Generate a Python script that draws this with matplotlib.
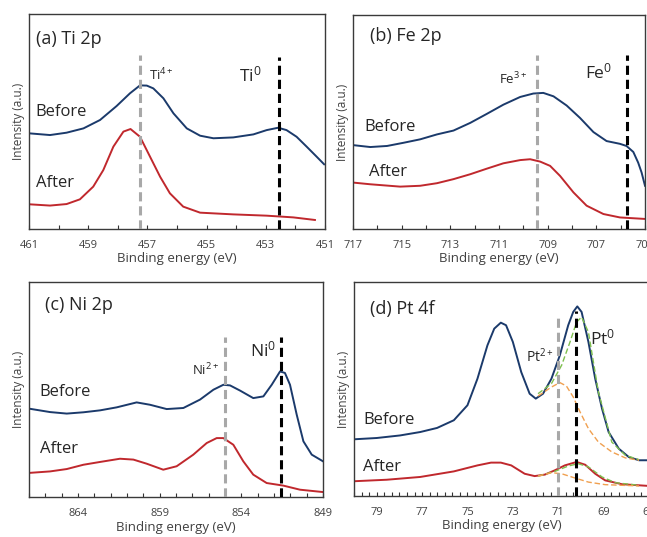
import matplotlib
matplotlib.use("Agg")
import matplotlib.pyplot as plt
from matplotlib.ticker import MultipleLocator
import numpy as np

plt.rcParams['font.family'] = ['Open Sans', 'DejaVu Sans']
plt.rcParams['mathtext.fontset'] = 'custom'
plt.rcParams['mathtext.rm'] = 'Open Sans'
plt.rcParams['mathtext.default'] = 'regular'

# ---- (a) Ti 2p ----
ti_be_before = [461, 460.29, 459.73, 459.16, 458.6, 458.04, 457.59, 457.25, 457.02, 456.8,
                456.46, 456.12, 455.67, 455.22, 454.77, 454.1, 453.42, 452.97, 452.58, 452.3,
                451.96, 451.62, 451.28, 451.03]
ti_before = [44.5, 43.7, 44.8, 46.8, 50.7, 57.2, 63.1, 66.8, 66.7, 65.4,
             60.8, 53.8, 46.8, 43.4, 42.2, 42.6, 44.0, 46.0, 47.1, 46.0,
             42.9, 38.3, 33.6, 30.1]
ti_be_after = [461, 460.29, 459.73, 459.28, 458.83, 458.49, 458.15, 457.81, 457.57, 457.25,
               456.91, 456.57, 456.24, 455.79, 455.22, 454.1, 452.97, 452.07, 451.34]
ti_after = [11.5, 10.9, 11.6, 13.8, 19.7, 27.4, 38.3, 45.3, 46.5, 42.9,
            33.6, 24.3, 16.6, 10.4, 7.6, 6.8, 6.2, 5.4, 4.2]
ti_ticks = [461, 459, 457, 455, 453, 451]
ti_ox, ti_met = 457.25, 452.57

# ---- (b) Fe 2p ----
fe_be_before = [717, 716.29, 715.6, 714.92, 714.24, 713.55, 712.87, 712.18, 711.5, 710.82,
                710.13, 709.59, 709.18, 708.76, 708.22, 707.67, 707.12, 706.58, 706.03, 705.76,
                705.48, 705.28, 705.14, 705.0]
fe_before = [39.2, 38.3, 38.8, 40.3, 41.9, 44.2, 46.0, 49.6, 53.8, 58.1,
             61.7, 63.3, 63.6, 62.0, 57.7, 51.9, 45.3, 41.1, 39.8, 38.8,
             36.0, 31.0, 26.4, 20.2]
fe_be_after = [717, 716.29, 715.06, 714.24, 713.55, 712.87, 712.18, 711.5, 710.82, 710.13,
               709.72, 709.31, 708.9, 708.49, 707.94, 707.4, 706.71, 706.03, 705.0]
fe_after = [21.7, 20.9, 19.8, 20.2, 21.4, 23.3, 25.6, 28.2, 30.7, 32.2,
            32.6, 31.5, 29.5, 24.8, 17.1, 10.9, 7.0, 5.4, 4.7]
fe_ticks = [717, 715, 713, 711, 709, 707, 705]
fe_ox, fe_met = 709.42, 705.76

# ---- (c) Ni 2p ----
ni_be_before = [867, 865.71, 864.69, 863.67, 862.65, 861.63, 860.41, 859.59, 858.57, 857.55,
                856.53, 855.71, 855.1, 854.69, 854.08, 853.27, 852.65, 852.14, 851.63, 851.33,
                851.02, 850.61, 850.2, 849.69, 849.0]
ni_before = [41.1, 39.5, 38.8, 39.4, 40.3, 41.7, 44.0, 42.9, 40.9, 41.4,
             45.3, 49.9, 52.2, 51.9, 49.5, 46.0, 46.8, 52.2, 58.4, 57.7,
             52.2, 38.3, 25.9, 19.7, 16.6]
ni_be_after = [867, 865.71, 864.69, 863.67, 862.65, 861.43, 860.61, 859.8, 858.78, 857.96,
               856.94, 856.12, 855.51, 855.1, 854.49, 853.88, 853.27, 852.45, 851.43, 850.41, 849.0]
ni_after = [11.2, 11.9, 13.0, 15.0, 16.3, 17.8, 17.4, 15.5, 12.7, 14.3,
            19.7, 25.1, 27.4, 27.4, 24.3, 16.6, 10.4, 6.5, 5.3, 3.4, 2.3]
ni_ticks = [864, 859, 854, 849]
ni_ox, ni_met = 855.0, 851.59

# ---- (d) Pt 4f ----
pt_be_before = [80, 79.0, 77.97, 77.08, 76.34, 75.6, 75.0, 74.56, 74.12, 73.82,
                73.53, 73.3, 73.0, 72.63, 72.26, 71.99, 71.67, 71.3, 70.93, 70.56,
                70.34, 70.16, 69.97, 69.67, 69.37, 69.07, 68.78, 68.33, 67.89, 67.44, 67.0]
pt_before = [26.5, 27.1, 28.3, 29.9, 31.8, 35.4, 42.4, 54.8, 70.4, 78.2,
             81.0, 79.8, 72.0, 57.9, 47.8, 45.5, 47.8, 54.8, 65.7, 79.8,
             86.0, 88.6, 86.0, 72.0, 54.8, 40.8, 29.9, 22.1, 18.2, 16.7, 16.7]
pt_be_after = [80, 78.56, 77.08, 75.6, 74.56, 73.96, 73.53, 73.07, 72.48, 72.04,
               71.59, 71.15, 70.71, 70.19, 69.81, 69.37, 68.93, 68.19, 67.0]
pt_after = [6.9, 7.6, 8.9, 11.5, 14.3, 15.6, 15.6, 14.3, 10.4, 9.3,
            10.0, 12.0, 14.3, 15.9, 14.6, 10.4, 7.3, 5.5, 4.7]
# fitted components
pt_fit_be = [71.89, 71.3, 70.85, 70.48, 70.19, 69.97, 69.67, 69.23, 68.64, 68.04, 67.44]
pt_fit_met_before = [47.8, 52.5, 61.1, 72.0, 81.3, 83.6, 76.6, 48.6, 25.2, 19.0, 17.0]
pt_fit_ox_be = [71.89, 71.3, 70.93, 70.64, 70.34, 70.04, 69.67, 69.23, 68.64, 68.04, 67.44]
pt_fit_ox_before = [46.7, 50.9, 53.0, 51.4, 46.3, 39.3, 31.5, 25.2, 20.6, 17.8, 16.7]
pt_fit_be_after = [71.89, 71.15, 70.56, 70.12, 69.67, 69.07, 68.48, 67.44]
pt_fit_met_after = [9.3, 11.5, 14.0, 15.1, 13.6, 8.9, 6.2, 5.0]
pt_fit_ox_be_after = [71.89, 71.3, 70.85, 70.26, 69.67, 68.93, 67.44]
pt_fit_ox_after = [9.3, 10.9, 10.4, 8.4, 6.5, 5.3, 4.7]
pt_ticks = [79, 77, 75, 73, 71, 69, 67]
pt_ox, pt_met = 71.0, 70.22

blue = '#1b3a6b'
red = '#c0282d'
gray = '#a8a8a8'
txt = '#262626'

fig = plt.figure(figsize=(6.47, 5.37), dpi=100)
W, H = 647.0, 537.0

def make_ax(l, r, t, b):
    return fig.add_axes([l / W, 1 - b / H, (r - l) / W, (b - t) / H])

ax_a = make_ax(29, 325, 14, 229)
ax_b = make_ax(353, 645, 15, 229)
ax_c = make_ax(29, 323, 282, 497)
ax_d = make_ax(354, 649, 282, 496)

def style(ax, xlim, ticks, minor):
    ax.set_xlim(*xlim)
    ax.set_ylim(0, 100)
    ax.set_yticks([])
    ax.set_xticks(ticks)
    ax.xaxis.set_minor_locator(MultipleLocator(minor))
    ax.tick_params(axis='x', which='both', direction='in', length=3, width=0.8,
                   color='#333333', labelsize=8, labelcolor='#404040', pad=8)
    for s in ax.spines.values():
        s.set_color('#3a3a3a')
        s.set_linewidth(1.0)
    ax.set_xlabel('Binding energy (eV)', fontsize=9.5, color='#404040', labelpad=1)
    ax.set_ylabel('Intensity (a.u.)', fontsize=8.5, color='#404040', labelpad=3)

def vlines(ax, x_ox, top_ox, x_met, top_met):
    ax.plot([x_ox, x_ox], [0, top_ox], color=gray, lw=2.2, ls=(0, (3, 1.6)), zorder=3)
    ax.plot([x_met, x_met], [0, top_met], color='black', lw=2.2, ls=(0, (3, 1.6)), zorder=3)

# (a)
style(ax_a, (461, 451), ti_ticks, 1)
ax_a.plot(ti_be_before, ti_before, color=blue, lw=1.4)
ax_a.plot(ti_be_after, ti_after, color=red, lw=1.4)
vlines(ax_a, ti_ox, 81, ti_met, 80)
ax_a.text(460.75, 88.5, '(a) Ti 2p', fontsize=13, color=txt, va='center')
ax_a.text(460.8, 54.5, 'Before', fontsize=12, color=txt, va='center')
ax_a.text(460.75, 21.5, 'After', fontsize=12, color=txt, va='center')
ax_a.text(456.95, 71.5, r'Ti$^{4+}$', fontsize=9.5, color=txt, va='center')
ax_a.text(453.9, 71.5, r'Ti$^{0}$', fontsize=12.5, color=txt, va='center')

# (b)
style(ax_b, (717, 705), fe_ticks, 1)
ax_b.plot(fe_be_before, fe_before, color=blue, lw=1.4)
ax_b.plot(fe_be_after, fe_after, color=red, lw=1.4)
vlines(ax_b, fe_ox, 81.5, fe_met, 81.5)
ax_b.text(716.3, 90, '(b) Fe 2p', fontsize=13, color=txt, va='center')
ax_b.text(716.55, 47.5, 'Before', fontsize=12, color=txt, va='center')
ax_b.text(716.35, 26.5, 'After', fontsize=12, color=txt, va='center')
ax_b.text(711.0, 70, r'Fe$^{3+}$', fontsize=9.5, color=txt, va='center')
ax_b.text(707.45, 73, r'Fe$^{0}$', fontsize=12.5, color=txt, va='center')

# (c)
style(ax_c, (867, 849), ni_ticks, 1)
ax_c.plot(ni_be_before, ni_before, color=blue, lw=1.4)
ax_c.plot(ni_be_after, ni_after, color=red, lw=1.4)
vlines(ax_c, ni_ox, 74.5, ni_met, 74.5)
ax_c.text(866.0, 89.5, '(c) Ni 2p', fontsize=13, color=txt, va='center')
ax_c.text(866.35, 49, 'Before', fontsize=12, color=txt, va='center')
ax_c.text(866.35, 22.5, 'After', fontsize=12, color=txt, va='center')
ax_c.text(857.0, 59, r'Ni$^{2+}$', fontsize=9.5, color=txt, va='center')
ax_c.text(853.5, 68, r'Ni$^{0}$', fontsize=12.5, color=txt, va='center')

# (d)
style(ax_d, (80, 67), pt_ticks, 1 / 3)
ax_d.plot(pt_be_before, pt_before, color=blue, lw=1.4)
ax_d.plot(pt_be_after, pt_after, color=red, lw=1.4)
ax_d.plot(pt_fit_be, pt_fit_met_before, color='#7fbf4f', lw=1.0, ls=(0, (4, 2)))
ax_d.plot(pt_fit_ox_be, pt_fit_ox_before, color='#f0a050', lw=1.0, ls=(0, (4, 2)))
ax_d.plot(pt_fit_be_after, pt_fit_met_after, color='#7fbf4f', lw=1.0, ls=(0, (4, 2)))
ax_d.plot(pt_fit_ox_be_after, pt_fit_ox_after, color='#f0a050', lw=1.0, ls=(0, (4, 2)))
vlines(ax_d, pt_ox, 84.5, pt_met, 86.5)
ax_d.text(79.3, 87.5, '(d) Pt 4f', fontsize=13, color=txt, va='center')
ax_d.text(79.6, 35.5, 'Before', fontsize=12, color=txt, va='center')
ax_d.text(79.6, 13.5, 'After', fontsize=12, color=txt, va='center')
ax_d.text(72.4, 65, r'Pt$^{2+}$', fontsize=10, color=txt, va='center')
ax_d.text(69.6, 73.5, r'Pt$^{0}$', fontsize=12.5, color=txt, va='center')

fig.savefig('out.png', dpi=100)
